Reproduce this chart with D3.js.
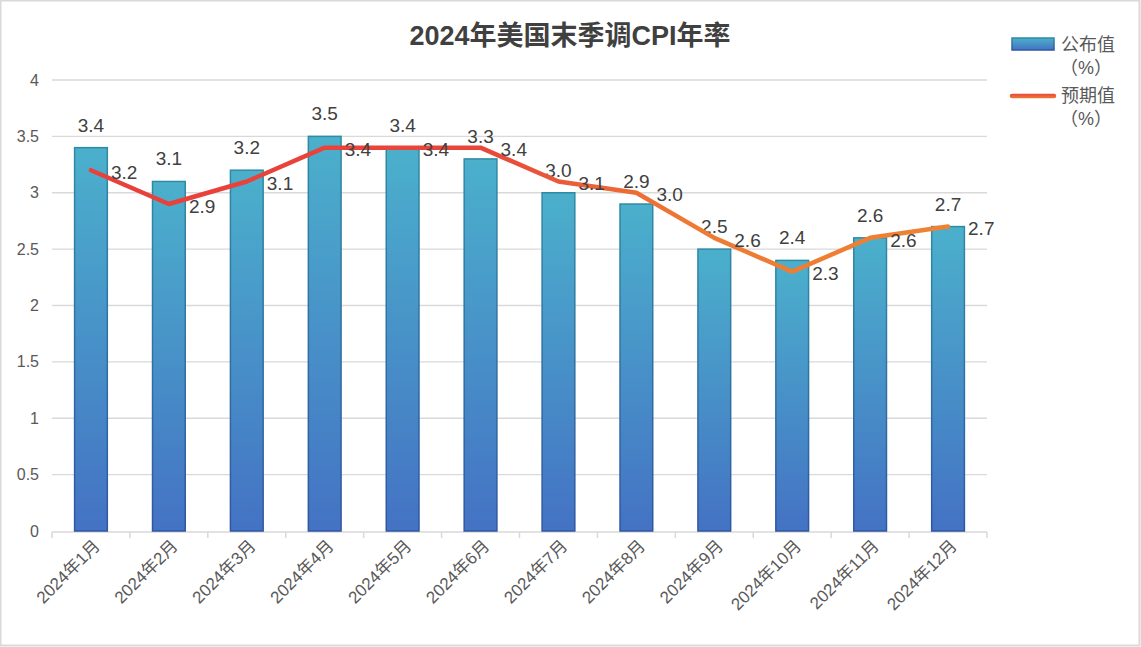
<!DOCTYPE html>
<html>
<head>
<meta charset="utf-8">
<script src="https://cdn.jsdelivr.net/npm/d3@7"></script>
<style>
  body { margin: 0; background: #fff; }
  text { font-family: "Liberation Sans", "Noto Sans CJK SC", sans-serif; }
</style>
</head>
<body>
<script>
var width = 1141,
    height = 647;

var months = ["2024年1月", "2024年2月", "2024年3月", "2024年4月", "2024年5月", "2024年6月",
              "2024年7月", "2024年8月", "2024年9月", "2024年10月", "2024年11月", "2024年12月"];
var actual = [3.4, 3.1, 3.2, 3.5, 3.4, 3.3, 3.0, 2.9, 2.5, 2.4, 2.6, 2.7];
var expected = [3.2, 2.9, 3.1, 3.4, 3.4, 3.4, 3.1, 3.0, 2.6, 2.3, 2.6, 2.7];
var yTicks = [0, 0.5, 1, 1.5, 2, 2.5, 3, 3.5, 4];

var svg = d3.select("body").append("svg")
    .attr("width", width)
    .attr("height", height);

var defs = svg.append("defs");

// bar fill
var barGrad = defs.append("linearGradient")
    .attr("id", "barGrad")
    .attr("x1", 0).attr("y1", 0).attr("x2", 0).attr("y2", 1);
barGrad.append("stop").attr("offset", "0%").attr("stop-color", "#4bb0cc");
barGrad.append("stop").attr("offset", "100%").attr("stop-color", "#4472c4");

var barStroke = defs.append("linearGradient")
    .attr("id", "barStroke")
    .attr("x1", 0).attr("y1", 0).attr("x2", 0).attr("y2", 1);
barStroke.append("stop").attr("offset", "0%").attr("stop-color", "#2f8aa3");
barStroke.append("stop").attr("offset", "100%").attr("stop-color", "#2f56a0");

// line colour: red on the left to orange on the right
var lineGrad = defs.append("linearGradient")
    .attr("id", "lineGrad")
    .attr("gradientUnits", "userSpaceOnUse")
    .attr("x1", 90).attr("y1", 0).attr("x2", 950).attr("y2", 0);
lineGrad.append("stop").attr("offset", "0%").attr("stop-color", "#e8403c");
lineGrad.append("stop").attr("offset", "45%").attr("stop-color", "#e8463a");
lineGrad.append("stop").attr("offset", "70%").attr("stop-color", "#ee7a34");
lineGrad.append("stop").attr("offset", "100%").attr("stop-color", "#ef8232");

var legGrad = defs.append("linearGradient")
    .attr("id", "legGrad")
    .attr("gradientUnits", "userSpaceOnUse")
    .attr("x1", 0).attr("y1", 93).attr("x2", 0).attr("y2", 99);
legGrad.append("stop").attr("offset", "0%").attr("stop-color", "#e8403c");
legGrad.append("stop").attr("offset", "100%").attr("stop-color", "#ef8232");

// frame
svg.append("rect")
    .attr("x", 0.5).attr("y", 0.5)
    .attr("width", width - 2).attr("height", height - 2)
    .attr("fill", "#fff")
    .attr("stroke", "#d9d9d9")
    .attr("stroke-width", 2);

var x = d3.scaleBand()
    .domain(months)
    .range([52, 987])
    .paddingInner(0.58)
    .paddingOuter(0.29);

var y = d3.scaleLinear()
    .domain([0, 4])
    .range([531, 80]);

// gridlines
svg.append("g")
    .selectAll("line")
    .data(yTicks.filter(function(d) { return d > 0; }))
    .enter().append("line")
    .attr("x1", 52).attr("x2", 987)
    .attr("y1", function(d) { return y(d); })
    .attr("y2", function(d) { return y(d); })
    .attr("stroke", "#d9d9d9")
    .attr("stroke-width", 1.3);

// y axis labels
svg.append("g")
    .selectAll("text")
    .data(yTicks)
    .enter().append("text")
    .attr("x", 39)
    .attr("y", function(d) { return y(d); })
    .attr("dy", "0.35em")
    .attr("text-anchor", "end")
    .attr("fill", "#595959")
    .attr("font-size", 16)
    .text(function(d) { return d; });

// x axis
var gx = svg.append("g")
    .attr("transform", "translate(0," + 532 + ")");
gx.append("line")
    .attr("x1", 52).attr("x2", 987)
    .attr("stroke", "#d9d9d9").attr("stroke-width", 1.5);
gx.selectAll(".sep")
    .data(d3.range(months.length + 1))
    .enter().append("line")
    .attr("class", "sep")
    .attr("x1", function(i) { return 52 + i * x.step(); })
    .attr("x2", function(i) { return 52 + i * x.step(); })
    .attr("y1", 0).attr("y2", 6)
    .attr("stroke", "#d9d9d9").attr("stroke-width", 1.5);

svg.append("g")
    .selectAll("text")
    .data(months)
    .enter().append("text")
    .attr("transform", function(d) {
        return "translate(" + (x(d) + x.bandwidth() / 2 + 10) + "," + 547 + ") rotate(-45)";
    })
    .attr("text-anchor", "end")
    .attr("fill", "#595959")
    .attr("font-size", 17)
    .text(function(d) { return d; });

// bars
svg.append("g")
    .selectAll("rect")
    .data(actual)
    .enter().append("rect")
    .attr("x", function(d, i) { return x(months[i]); })
    .attr("y", function(d) { return y(d); })
    .attr("width", x.bandwidth())
    .attr("height", function(d) { return y(0) - y(d); })
    .attr("fill", "url(#barGrad)")
    .attr("stroke", "url(#barStroke)")
    .attr("stroke-width", 1.5);

// bar labels
svg.append("g")
    .selectAll("text")
    .data(actual)
    .enter().append("text")
    .attr("x", function(d, i) { return x(months[i]) + x.bandwidth() / 2; })
    .attr("y", function(d) { return y(d) - 16; })
    .attr("text-anchor", "middle")
    .attr("fill", "#404040")
    .attr("font-size", 19)
    .text(function(d) { return d.toFixed(1); });

// expected line
var line = d3.line()
    .x(function(d, i) { return x(months[i]) + x.bandwidth() / 2; })
    .y(function(d) { return y(d); });

svg.append("path")
    .datum(expected)
    .attr("d", line)
    .attr("fill", "none")
    .attr("stroke", "url(#lineGrad)")
    .attr("stroke-width", 4.5)
    .attr("stroke-linejoin", "round")
    .attr("stroke-linecap", "round");

svg.append("g")
    .selectAll("text")
    .data(expected)
    .enter().append("text")
    .attr("x", function(d, i) { return x(months[i]) + x.bandwidth() / 2 + 20; })
    .attr("y", function(d) { return y(d) + 2; })
    .attr("dy", "0.35em")
    .attr("fill", "#404040")
    .attr("font-size", 19)
    .text(function(d) { return d.toFixed(1); });

// title
svg.append("text")
    .attr("x", 570)
    .attr("y", 45)
    .attr("text-anchor", "middle")
    .attr("fill", "#404040")
    .attr("font-size", 27)
    .attr("font-weight", "bold")
    .text("2024年美国末季调CPI年率");

// legend
var legend = svg.append("g").attr("font-size", 18).attr("fill", "#595959");
legend.append("rect")
    .attr("x", 1012).attr("y", 38)
    .attr("width", 42).attr("height", 12)
    .attr("fill", "url(#barGrad)")
    .attr("stroke", "url(#barStroke)")
    .attr("stroke-width", 1.5);
legend.append("text").attr("x", 1061).attr("y", 45).attr("dy", "0.35em").text("公布值");
legend.append("text").attr("x", 1086).attr("y", 68).attr("dy", "0.35em").attr("text-anchor", "middle").text("（%）");
legend.append("line")
    .attr("x1", 1012).attr("x2", 1054)
    .attr("y1", 96).attr("y2", 96)
    .attr("stroke", "url(#legGrad)")
    .attr("stroke-width", 4.5)
    .attr("stroke-linecap", "round");
legend.append("text").attr("x", 1061).attr("y", 96).attr("dy", "0.35em").text("预期值");
legend.append("text").attr("x", 1086).attr("y", 119).attr("dy", "0.35em").attr("text-anchor", "middle").text("（%）");
</script>
</body>
</html>
